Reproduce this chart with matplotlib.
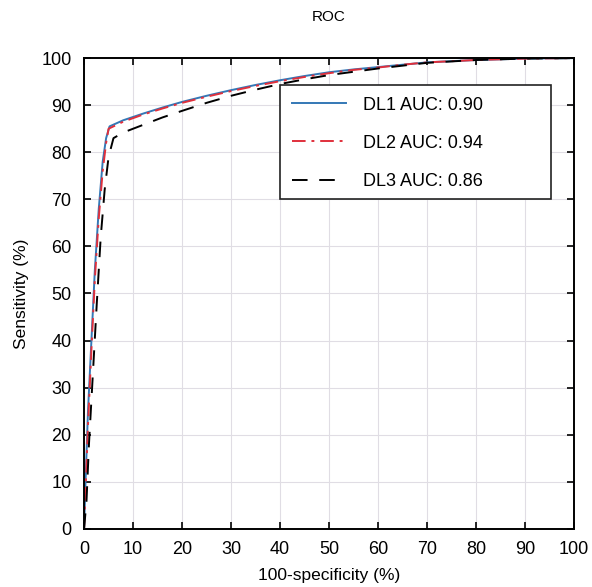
import matplotlib
matplotlib.use("Agg")
import matplotlib.pyplot as plt
from matplotlib.patches import Rectangle

plt.rcParams['font.family'] = ['Liberation Sans', 'DejaVu Sans']

# ROC points (100-specificity %, sensitivity %)
dl1_x = [0, 0.3, 0.8, 1.5, 2.2, 3.0, 3.8, 4.5, 5.2, 8, 12, 16, 20, 25, 30, 35, 40, 45, 50, 55, 60, 65, 70, 80, 90, 100]
dl1_y = [0, 10, 25, 40, 55, 68, 78, 83, 85.5, 86.8, 88.2, 89.5, 90.7, 92.0, 93.2, 94.3, 95.3, 96.2, 97.0, 97.6, 98.1, 98.6, 99.1, 99.6, 99.9, 100]
dl2_x = [0, 0.3, 0.8, 1.5, 2.2, 3.0, 3.8, 4.5, 5.0, 8, 12, 16, 20, 25, 30, 35, 40, 45, 50, 55, 60, 65, 70, 80, 90, 100]
dl2_y = [0, 8, 22, 38, 53, 66, 76, 82, 85, 86.5, 88.0, 89.3, 90.5, 91.8, 93.0, 94.1, 95.1, 96.0, 96.8, 97.5, 98.0, 98.6, 99.1, 99.6, 99.9, 100]
dl3_x = [0, 0.5, 1.0, 1.8, 2.6, 3.4, 4.2, 5.0, 6.0, 8, 12, 16, 20, 25, 30, 35, 40, 45, 50, 55, 60, 65, 70, 80, 90, 100]
dl3_y = [0, 6, 18, 33, 48, 62, 72, 79, 83, 84.2, 85.8, 87.4, 88.8, 90.5, 92.0, 93.3, 94.5, 95.5, 96.4, 97.1, 97.8, 98.4, 99.0, 99.6, 99.9, 100]

labels = ["DL1 AUC: 0.90", "DL2 AUC: 0.94", "DL3 AUC: 0.86"]
ticks = list(range(0, 101, 10))

fig = plt.figure(figsize=(5.92, 5.87), dpi=100)
ax = fig.add_axes([0.142, 0.099, 0.828, 0.802])

ax.plot(dl1_x, dl1_y, color='#3478b6', lw=1.4, label=labels[0])
ax.plot(dl2_x, dl2_y, color='#e0303c', lw=1.4, ls=(0, (7, 3, 1.5, 3)), label=labels[1])
ax.plot(dl3_x, dl3_y, color='black', lw=1.4, ls=(0, (8, 6)), label=labels[2])

ax.set_xlim(0, 100)
ax.set_ylim(0, 100)
ax.set_xticks(ticks)
ax.set_yticks(ticks)
ax.grid(True, color='#e0dde4', lw=0.8)
ax.set_axisbelow(True)
ax.tick_params(direction='in', top=True, right=True, length=5, width=1.2,
               labelsize=13, pad=9)
for s in ax.spines.values():
    s.set_linewidth(1.4)

ax.set_title("ROC", fontsize=11, pad=27)
ax.set_xlabel("100-specificity (%)", fontsize=12.5, labelpad=7)
ax.set_ylabel("Sensitivity (%)", fontsize=12.5, labelpad=9)

# legend box (MATLAB style, wide on the right)
box = Rectangle((0.40, 0.70), 0.553, 0.243, transform=ax.transAxes,
                facecolor='white', edgecolor='#222222', lw=1.2, zorder=5)
ax.add_patch(box)
leg = ax.legend(loc='upper left', bbox_to_anchor=(0.40, 0.943), fontsize=13,
                frameon=False, handlelength=3.0, labelspacing=1.17,
                borderpad=0.65, handletextpad=0.95, borderaxespad=0)
leg.set_zorder(6)

fig.savefig("out.png", dpi=100)
